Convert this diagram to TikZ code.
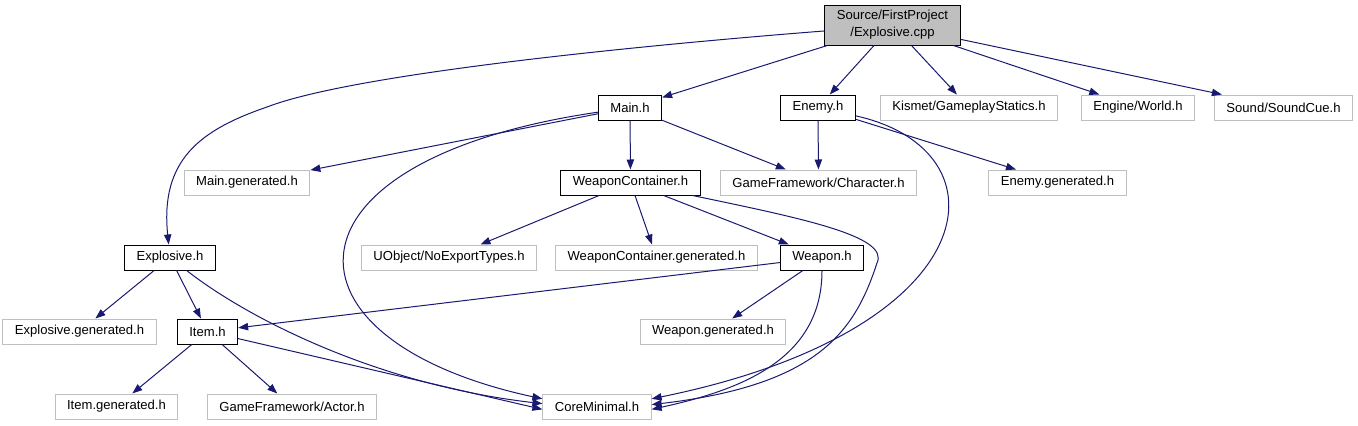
\documentclass[tikz,border=0pt]{standalone}
\usepackage{fontspec}
\setmainfont{Liberation Sans}
\usepackage{color}
\usepackage{tikz}
\usetikzlibrary{arrows.meta}
\definecolor{edgeblue}{RGB}{25,25,112}
\definecolor{boxgray}{RGB}{191,191,191}

\begin{document}
\begin{tikzpicture}[x=0.75pt,y=-0.75pt,
	every node/.style={font=\fontsize{9.8}{12.75}\selectfont,inner xsep=9pt,inner ysep=2pt,minimum height=18.75pt},
	hdr/.style={shape=rectangle,draw=black,fill=white,line width=0.75pt},
	sys/.style={shape=rectangle,draw=boxgray,fill=white,line width=0.75pt},
	dep/.style={->,>={Triangle[length=7.5pt,width=5.5pt]},color=edgeblue,line width=0.75pt}]
	\useasboundingbox (0,0) rectangle (1358,425);

	\node[hdr,fill=boxgray,align=center,minimum height=30pt] (src) at (892.5,25) {Source/FirstProject\\/Explosive.cpp};
	\node[hdr] (mainh) at (630,107.5) {Main.h};
	\node[hdr] (enemyh) at (818,107.5) {Enemy.h};
	\node[sys] (kismet) at (969,107.5) {Kismet/GameplayStatics.h};
	\node[sys] (world) at (1138,107.5) {Engine/World.h};
	\node[sys] (soundcue) at (1283.5,107.5) {Sound/SoundCue.h};
	\node[sys] (maingen) at (247,182.5) {Main.generated.h};
	\node[hdr] (wch) at (630.5,182.5) {WeaponContainer.h};
	\node[sys] (character) at (818.5,182.5) {GameFramework/Character.h};
	\node[sys] (enemygen) at (1057.5,182.5) {Enemy.generated.h};
	\node[hdr] (explh) at (170,257.5) {Explosive.h};
	\node[sys] (noexport) at (449,257.5) {UObject/NoExportTypes.h};
	\node[sys] (wcgen) at (656.5,257.5) {WeaponContainer.generated.h};
	\node[hdr] (weaponh) at (822,257.5) {Weapon.h};
	\node[sys] (explgen) at (79.5,331.5) {Explosive.generated.h};
	\node[hdr] (itemh) at (207.5,331.5) {Item.h};
	\node[sys] (weapongen) at (713,331.5) {Weapon.generated.h};
	\node[sys] (itemgen) at (116.5,406.5) {Item.generated.h};
	\node[sys] (actor) at (292,406.5) {GameFramework/Actor.h};
	\node[sys] (coremin) at (597,406.5) {CoreMinimal.h};

	\path [dep](src) edge (mainh);
	\path [dep](src) edge (enemyh);
	\path [dep](src) edge (kismet);
	\path [dep](src) edge (world);
	\path [dep](src) edge (soundcue);
	\draw [dep](src.185) .. controls (620,47) and (350,75) .. (267,107) .. controls (200,130) and (160,160) .. (explh);
	\path [dep](mainh) edge (maingen);
	\path [dep](mainh) edge (wch);
	\path [dep](mainh) edge (character);
	\draw [dep](mainh) .. controls (270,160) and (270,340) .. (coremin.172);
	\path [dep](enemyh) edge (character);
	\path [dep](enemyh) edge (enemygen);
	\draw [dep](enemyh) .. controls (1010,150) and (990,330) .. (coremin.8);
	\path [dep](wch) edge (noexport);
	\path [dep](wch) edge (wcgen);
	\path [dep](wch) edge (weaponh);
	\draw [dep](wch) .. controls (800,218) and (890,236) .. (877,263) .. controls (855,330) and (820,385) .. (coremin.2);
	\path [dep](weaponh) edge (itemh);
	\path [dep](weaponh) edge (weapongen);
	\draw [dep](weaponh) .. controls (822,360) and (740,390) .. (coremin.-3);
	\path [dep](explh) edge (explgen);
	\path [dep](explh) edge (itemh);
	\draw [dep](explh) .. controls (250,320) and (380,385) .. (coremin.177);
	\path [dep](itemh) edge (itemgen);
	\path [dep](itemh) edge (actor);
	\path [dep](itemh) edge (coremin.183);
\end{tikzpicture}
\end{document}
